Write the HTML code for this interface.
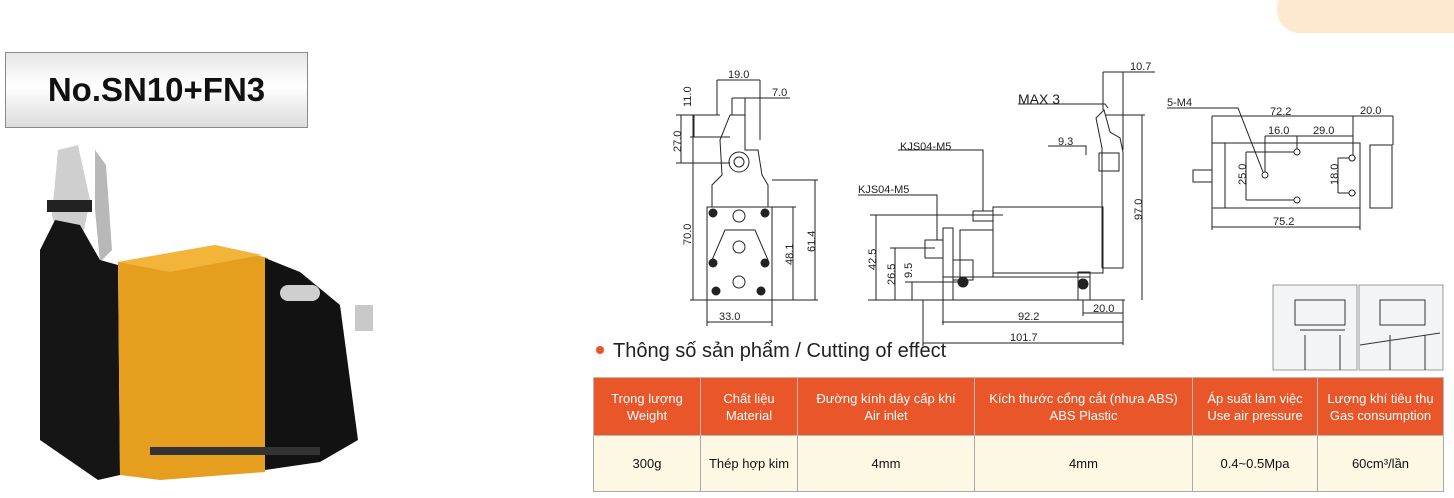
<!DOCTYPE html>
<html><head><meta charset="utf-8"><style>
body{margin:0;width:1454px;height:498px;background:#fff;position:relative;overflow:hidden;font-family:"Liberation Sans","DejaVu Sans",sans-serif}
.title{position:absolute;left:5px;top:52px;width:301px;height:74px;border:1px solid #8a8a8a;background:linear-gradient(#e6e6e6,#fff 45%,#dcdcdc);font-weight:bold;font-size:33px;line-height:74px;text-align:center;color:#111}
.hd{position:absolute;left:596px;top:340px;font-size:20px;color:#222}
.hd:before{content:"";display:inline-block;width:8px;height:8px;border-radius:50%;background:#e8552a;margin-right:9px;vertical-align:3px}
table{position:absolute;left:593px;top:377px;width:850px;border-collapse:collapse;table-layout:fixed;font-size:13px;font-family:"Liberation Sans","DejaVu Sans Condensed",sans-serif}
th{background:#e9562a;color:#fff;font-weight:normal;height:57px;border:1px solid #b9b9b9;line-height:17px;padding:0;white-space:nowrap;overflow:hidden}
td{background:#fdf8e3;height:55px;border:1px solid #a9a9a9;text-align:center;color:#111;padding:0;white-space:nowrap}
</style></head><body>
<div style="position:absolute;left:1277px;top:-20px;width:200px;height:53px;background:#fde9cf;border-radius:40px 0 0 30px"></div>
<div class="title">No.SN10+FN3</div>
<svg style="position:absolute;left:0;top:0" width="1454" height="498">
<polygon points="58,150 78,145 90,200 80,250 62,255 52,215" fill="#cfcfcf"/>
<polygon points="95,150 106,165 112,250 100,262 95,210" fill="#b8b8b8"/>
<polygon points="40,250 55,220 80,225 100,260 118,265 120,475 98,480 40,440" fill="#151515"/>
<rect x="47" y="200" width="45" height="12" fill="#222"/>
<polygon points="118,262 215,245 268,258 265,472 160,480 120,475" fill="#e59e1e"/>
<polygon points="118,262 215,245 262,255 170,272" fill="#f3b43a"/>
<polygon points="265,258 300,272 340,305 358,440 320,462 265,470" fill="#121212"/>
<rect x="280" y="285" width="40" height="16" rx="8" fill="#cfcfcf"/>
<rect x="355" y="305" width="18" height="26" fill="#c8c8c8"/>
<rect x="150" y="447" width="170" height="8" fill="#333"/>
<g stroke="#222" stroke-width="1" fill="none" font-family="Liberation Sans,sans-serif">
<rect x="707" y="207" width="65" height="93"/>
<path d="M712 207 L712 185 L722 175 L720 140 L730 115 L745 115 L745 150 L758 150 L762 175 L768 185 L768 207"/>
<circle cx="739" cy="162" r="10"/><circle cx="739" cy="162" r="5"/>
<path d="M712 260 L725 230 L755 230 L768 260"/>
<g fill="#222"><circle cx="713" cy="213" r="4"/><circle cx="765" cy="213" r="4"/><circle cx="713" cy="263" r="4"/><circle cx="765" cy="263" r="4"/><circle cx="716" cy="291" r="4"/><circle cx="761" cy="291" r="4"/></g>
<circle cx="739" cy="216" r="6"/><circle cx="739" cy="247" r="6"/><circle cx="739" cy="282" r="6"/>
<path d="M693 115 V300 M681 115 V163 M694 115 V137 M676 115 H720 M690 137 H730 M676 163 H730 M690 300 H775 M815 180 V300 M772 180 H818 M793 207 V300 M772 207 H796 M707 322 H772 M707 300 V326 M772 300 V326 M717 80 H760 M717 80 V115 M760 80 V140 M732 98 H790 M732 98 V115 M745 98 V115 M772 300 H818"/>
<rect x="993" y="207" width="110" height="66"/>
<rect x="973" y="211" width="20" height="10"/>
<path d="M1102 268 V148 L1096 118 L1104 110 L1110 132 L1120 138 L1123 152 V268 M1102 268 H1123 V245"/>
<rect x="1099" y="153" width="20" height="18"/>
<rect x="943" y="277" width="147" height="23"/>
<rect x="943" y="228" width="10" height="72"/>
<rect x="925" y="240" width="18" height="18"/>
<rect x="953" y="260" width="20" height="20"/>
<rect x="960" y="230" width="33" height="47"/>
<circle cx="963" cy="282" r="5" fill="#222"/><circle cx="1083" cy="284" r="5" fill="#222"/>
<rect x="1078" y="272" width="12" height="28"/>
<path d="M876 215 V300 M870 215 H1003 M895 248 V300 M890 248 H935 M912 282 V300 M905 282 H960 M868 300 H1125 M1142 115 V300 M1105 115 H1145 M1123 300 V345 M1083 300 V316 M943 300 V325 M923 300 V346 M1083 313 H1123 M942 322 H1123 M923 343 H1123 M1103 72 V110 M1103 72 H1155 M1123 72 V150 M1018 104 H1105 L1108 108 M1048 146 H1086 V155 M898 150 H983 V211 M858 195 H937 V240"/>
<rect x="1212" y="143" width="148" height="65"/>
<rect x="1212" y="143" width="13" height="65"/>
<rect x="1370" y="145" width="22" height="63"/>
<rect x="1193" y="170" width="19" height="12"/>
<path d="M1212 116 V143 M1353 116 V160 M1393 116 V145 M1212 116 H1393 M1265 136 V175 M1297 136 V152 M1265 136 H1353 M1212 208 V230 M1360 208 V230 M1212 227 H1360 M1246 152 V200 M1246 152 H1300 M1246 200 H1300 M1338 158 V193 M1338 158 H1356 M1338 193 H1356 M1167 108 H1238 L1263 172"/>
<g fill="#fff"><circle cx="1297" cy="152" r="3"/><circle cx="1297" cy="200" r="3"/><circle cx="1265" cy="175" r="3"/><circle cx="1352" cy="158" r="3"/><circle cx="1352" cy="193" r="3"/></g>
</g>
<g font-size="11" fill="#222" font-family="Liberation Sans,sans-serif">
<text x="728" y="78">19.0</text><text x="772" y="96">7.0</text>
<text x="719" y="320">33.0</text>
<text transform="translate(691,107) rotate(-90)">11.0</text>
<text transform="translate(681,152) rotate(-90)">27.0</text>
<text transform="translate(691,245) rotate(-90)">70.0</text>
<text transform="translate(793,265) rotate(-90)">48.1</text>
<text transform="translate(815,252) rotate(-90)">61.4</text>
<text x="1130" y="70">10.7</text><text x="1018" y="104" font-size="14">MAX 3</text>
<text x="1058" y="145">9.3</text><text x="900" y="150">KJS04-M5</text><text x="858" y="193">KJS04-M5</text>
<text transform="translate(876,270) rotate(-90)">42.5</text>
<text transform="translate(895,285) rotate(-90)">26.5</text>
<text transform="translate(912,278) rotate(-90)">9.5</text>
<text transform="translate(1142,220) rotate(-90)">97.0</text>
<text x="1093" y="312">20.0</text><text x="1018" y="320">92.2</text><text x="1010" y="341">101.7</text>
<text x="1167" y="106">5-M4</text><text x="1270" y="115">72.2</text><text x="1360" y="114">20.0</text>
<text x="1268" y="134">16.0</text><text x="1313" y="134">29.0</text><text x="1273" y="225">75.2</text>
<text transform="translate(1246,185) rotate(-90)">25.0</text>
<text transform="translate(1338,185) rotate(-90)">18.0</text>
</g>
<g stroke="#999" fill="#f3f4f6"><rect x="1273" y="285" width="84" height="85"/><rect x="1359" y="285" width="84" height="85"/></g>
<g stroke="#333" fill="none"><path d="M1295 300 h50 v25 h-50z M1300 330 h45 M1305 335 v35 M1340 335 v35 M1380 300 h45 v25 h-45z M1360 345 l80 -12 M1390 335 v35 M1425 335 v35"/></g>
</svg>
<div class="hd">Thông số sản phẩm / Cutting of effect</div>
<table><colgroup><col style="width:107px"><col style="width:97px"><col style="width:177px"><col style="width:218px"><col style="width:125px"><col style="width:126px"></colgroup>
<tr><th>Trọng lượng<br>Weight</th><th>Chất liệu<br>Material</th><th>Đường kính dây cấp khí<br>Air inlet</th><th>Kích thước cổng cắt (nhựa ABS)<br>ABS Plastic</th><th>Áp suất làm việc<br>Use air pressure</th><th>Lượng khí tiêu thụ<br>Gas consumption</th></tr>
<tr><td>300g</td><td>Thép hợp kim</td><td>4mm</td><td>4mm</td><td>0.4~0.5Mpa</td><td>60cm³/lần</td></tr></table>
</body></html>
